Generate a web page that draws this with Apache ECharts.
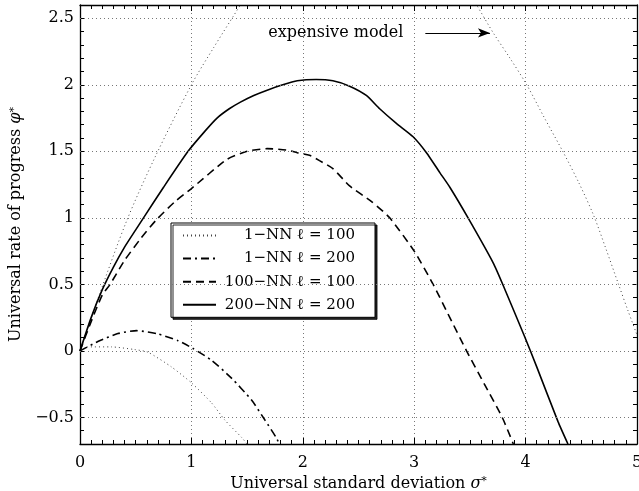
<!DOCTYPE html>
<html>
<head>
<meta charset="utf-8">
<script src="https://cdn.jsdelivr.net/npm/echarts@6/dist/echarts.min.js"></script>
<style>
  html, body { margin: 0; padding: 0; background: #fff; }
  #chart { width: 639px; height: 491px; }
</style>
</head>
<body>
<div id="chart"></div>
<script>
// values
const seriesNames = ['1−NN ℓ = 100', '1−NN ℓ = 200', '100−NN ℓ = 100', '200−NN ℓ = 200'];

const nn1l100X = [0, 0.07, 0.28, 0.49, 0.61, 0.82, 1.0, 1.18, 1.30, 1.45, 1.50];
const nn1l100Y = [0, 0.03, 0.03, 0.01, -0.01, -0.12, -0.24, -0.39, -0.52, -0.65, -0.70];

const nn1l200X = [0, 0.16, 0.34, 0.51, 0.70, 0.88, 1.01, 1.18, 1.36, 1.54, 1.66, 1.76, 1.79];
const nn1l200Y = [0, 0.07, 0.13, 0.152, 0.127, 0.077, 0.02, -0.07, -0.205, -0.37, -0.52, -0.65, -0.70];

const nn100X = [0, 0.10, 0.20, 0.27, 0.40, 0.55, 0.68, 0.85, 1.00, 1.32, 1.50, 1.68, 1.85, 1.95, 2.06, 2.15, 2.27, 2.42, 2.62, 2.78, 3.00, 3.17, 3.32, 3.47, 3.63, 3.79, 3.89];
const nn100Y = [0, 0.22, 0.42, 0.50, 0.68, 0.85, 0.98, 1.12, 1.22, 1.44, 1.50, 1.52, 1.51, 1.49, 1.47, 1.43, 1.37, 1.24, 1.12, 1.00, 0.75, 0.50, 0.25, 0, -0.25, -0.50, -0.70];

const nn200X = [0, 0.10, 0.20, 0.30, 0.40, 0.50, 0.57, 0.75, 0.97, 1.12, 1.23, 1.34, 1.44, 1.56, 1.68, 1.82, 1.95, 2.12, 2.27, 2.42, 2.57, 2.69, 2.84, 2.99, 3.11, 3.23, 3.32, 3.49, 3.71, 3.80, 3.99, 4.10, 4.29, 4.38];
const nn200Y = [0, 0.25, 0.46, 0.63, 0.78, 0.91, 1.00, 1.23, 1.50, 1.65, 1.75, 1.82, 1.87, 1.92, 1.96, 2.00, 2.03, 2.04, 2.03, 1.99, 1.92, 1.82, 1.71, 1.61, 1.49, 1.34, 1.23, 0.99, 0.66, 0.49, 0.11, -0.12, -0.53, -0.70];

// expensive model, two visible branches (null = break)
const expensiveX = [0, 0.16, 0.42, 0.67, 1.0, 1.20, 1.44, 1.55, 2.5, 3.45, 3.56, 3.71, 3.86, 4.01, 4.17, 4.34, 4.48, 4.61, 4.72, 4.83, 4.92, 5.0];
const expensiveY = [0, 0.39, 0.98, 1.45, 2.00, 2.28, 2.60, 2.74, null, 2.74, 2.60, 2.39, 2.20, 2.00, 1.75, 1.49, 1.26, 1.02, 0.77, 0.51, 0.30, 0.12];

const xTicks = [0, 1, 2, 3, 4, 5];
const yGrid = [-0.5, 0, 0.5, 1, 1.5, 2, 2.5];

const zip = (xs, ys) => xs.map((x, i) => [x, ys[i]]);

const FONT = 'DejaVu Serif';
const FS = 16;
const gridLineStyle = { color: '#777', width: 1, type: [1, 3] };

const chart = echarts.init(document.getElementById('chart'));

function yLabel(v) {
  const h = v * 2;
  if (Math.abs(h - Math.round(h)) > 1e-6) return '';
  const r = Math.round(h) / 2;
  return r < 0 ? '−' + (-r) : String(r);
}

const nameRich = {
  a: { fontFamily: FONT, fontSize: FS, color: '#000' },
  b: { fontFamily: FONT, fontSize: FS, fontStyle: 'italic', color: '#000' },
  c: { fontFamily: FONT, fontSize: 11, color: '#000', verticalAlign: 'top', lineHeight: 11 }
};

const option = {
  backgroundColor: '#fff',
  animation: false,
  textStyle: { fontFamily: FONT, color: '#000' },
  grid: { left: 80, right: 2, top: 5, bottom: 47, containLabel: false, outerBoundsMode: 'none' },
  legend: {
    data: seriesNames,
    orient: 'vertical',
    left: 171,
    top: 223,
    padding: [5, 20, 5, 11],
    itemWidth: 33,
    itemHeight: 14,
    itemGap: 8.1,
    itemStyle: { opacity: 0 },
    backgroundColor: '#fff',
    borderColor: '#000',
    borderWidth: 1,
    borderRadius: 0,
    shadowColor: 'rgba(0,0,0,0.85)',
    shadowBlur: 0,
    shadowOffsetX: 2,
    shadowOffsetY: 2,
    formatter: name => '{t|' + name + '}',
    textStyle: {
      fontFamily: FONT,
      fontSize: 15,
      color: '#000',
      rich: { t: { width: 134, align: 'right', fontFamily: FONT, fontSize: 15, lineHeight: 17 } }
    }
  },
  xAxis: [{
    type: 'value',
    min: xTicks[0],
    max: xTicks[xTicks.length - 1],
    interval: 1,
    position: 'bottom',
    axisLine: { onZero: false, lineStyle: { color: '#000', width: 1.3 } },
    axisTick: { inside: true, length: 6, lineStyle: { color: '#000' } },
    minorTick: { show: true, splitNumber: 10, length: 4, lineStyle: { color: '#000' } },
    splitLine: { show: true, lineStyle: gridLineStyle },
    axisLabel: { color: '#000', fontSize: FS, fontFamily: FONT, margin: 11 },
    name: '{a|Universal standard deviation }{b|σ}{c|*}',
    nameLocation: 'middle',
    nameGap: 21,
    nameTextStyle: { rich: nameRich }
  }, {
    type: 'value',
    min: xTicks[0],
    max: xTicks[xTicks.length - 1],
    interval: 1,
    position: 'top',
    axisLine: { onZero: false, lineStyle: { color: '#000', width: 1.3 } },
    axisTick: { inside: true, length: 6, lineStyle: { color: '#000' } },
    minorTick: { show: true, splitNumber: 10, length: 4, lineStyle: { color: '#000' } },
    splitLine: { show: false },
    axisLabel: { show: false }
  }],
  yAxis: [{
    type: 'value',
    min: -0.7,
    max: 2.6,
    interval: 0.1,
    position: 'left',
    axisLine: { onZero: false, lineStyle: { color: '#000', width: 1.3 } },
    axisTick: { inside: true, length: 4, lineStyle: { color: '#000' } },
    splitLine: { show: false },
    axisLabel: { color: '#000', fontSize: FS, fontFamily: FONT, margin: 6, formatter: yLabel },
    name: '{a|Universal rate of progress }{b|φ}{c|*}',
    nameLocation: 'middle',
    nameRotate: 90,
    nameGap: 54,
    nameTextStyle: { rich: nameRich }
  }, {
    type: 'value',
    min: -0.7,
    max: 2.6,
    interval: 0.1,
    position: 'right',
    axisLine: { onZero: false, lineStyle: { color: '#000', width: 1.3 } },
    axisTick: { inside: true, length: 4, lineStyle: { color: '#000' } },
    splitLine: { show: false },
    axisLabel: { show: false }
  }],
  series: [
    {
      name: 'grid',
      type: 'line',
      data: [[0, 0]],
      symbol: 'none',
      lineStyle: { opacity: 0 },
      silent: true,
      z: 1,
      markLine: {
        silent: true,
        symbol: 'none',
        animation: false,
        lineStyle: gridLineStyle,
        label: { show: false },
        data: yGrid.map(v => ({ yAxis: v })).concat([
          [
            {
              coord: [3.1, 2.39],
              symbol: 'none',
              lineStyle: { color: '#000', width: 1, type: 'solid' },
              label: {
                show: true,
                position: 'start',
                distance: 22,
                formatter: 'expensive model',
                color: '#000',
                fontFamily: FONT,
                fontSize: FS
              }
            },
            { coord: [3.68, 2.39], symbol: 'arrow', symbolSize: [7, 12] }
          ]
        ])
      }
    },
    {
      name: 'expensive model',
      type: 'line',
      data: zip(expensiveX, expensiveY),
      symbol: 'none',
      smooth: 0.3,
      connectNulls: false,
      lineStyle: { color: '#444', width: 1, type: [1, 3] },
      z: 2
    },
    {
      name: seriesNames[0],
      type: 'line',
      data: zip(nn1l100X, nn1l100Y),
      symbol: 'none',
      smooth: 0.2,
      color: '#444',
      lineStyle: { color: '#444', width: 1, type: [1, 3] },
      z: 3
    },
    {
      name: seriesNames[1],
      type: 'line',
      data: zip(nn1l200X, nn1l200Y),
      symbol: 'none',
      smooth: 0.2,
      color: '#000',
      lineStyle: { color: '#000', width: 1.6, type: [8, 4, 2, 4] },
      z: 3
    },
    {
      name: seriesNames[2],
      type: 'line',
      data: zip(nn100X, nn100Y),
      symbol: 'none',
      smooth: 0.2,
      color: '#000',
      lineStyle: { color: '#000', width: 1.6, type: [8, 5] },
      z: 3
    },
    {
      name: seriesNames[3],
      type: 'line',
      data: zip(nn200X, nn200Y),
      symbol: 'none',
      smooth: 0.2,
      color: '#000',
      lineStyle: { color: '#000', width: 1.6 },
      z: 3
    }
  ]
};

chart.setOption(option);
</script>
</body>
</html>
